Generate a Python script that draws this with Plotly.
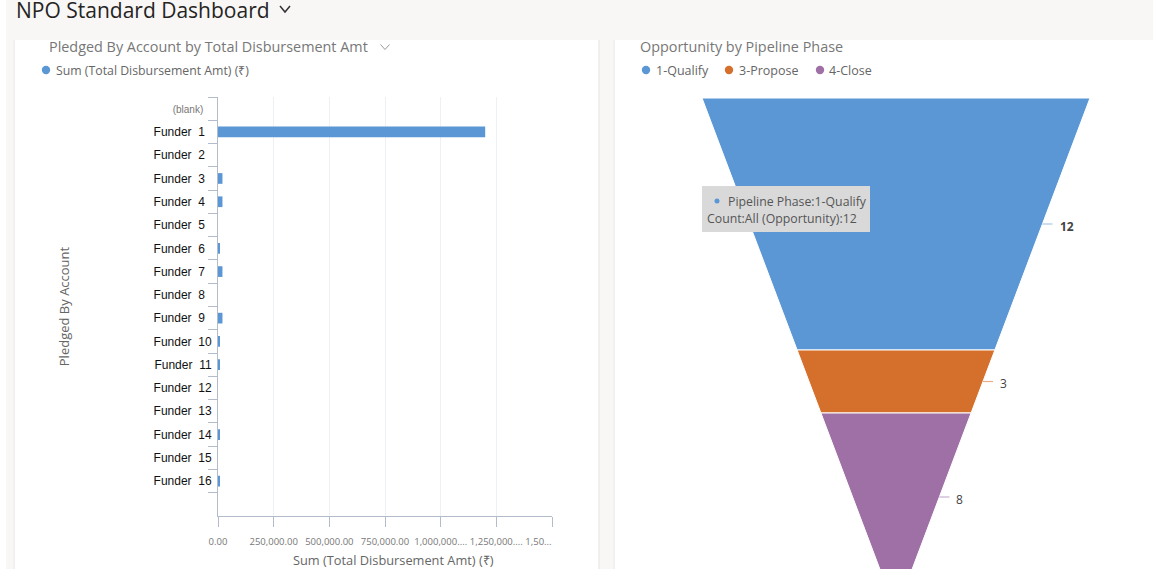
import plotly.graph_objects as go

# ---- data ----
accounts = ["(blank)", "Funder 1", "Funder 2", "Funder 3", "Funder 4", "Funder 5", "Funder 6", "Funder 7", "Funder 8",
            "Funder 9", "Funder 10", "Funder 11", "Funder 12", "Funder 13", "Funder 14", "Funder 15", "Funder 16", ""]
amounts = [0, 1200000, 0, 20000, 20000, 0, 8000, 20000, 0, 20000, 8000, 8000, 0, 0, 8000, 0, 8000, 0]
x_tickvals = [0, 250000, 500000, 750000, 1000000, 1250000, 1500000]
x_ticktext = ["0.00", "250,000.00", "500,000.00", "750,000.00", "1,000,000....", "1,250,000....", "1,50..."]
phases = ["1-Qualify", "3-Propose", "4-Close"]
counts = [12, 3, 8]
phase_colors = ["#5B97D5", "#D4702C", "#9E70A5"]
leader_colors = ["#A9C8E8", "#E8AE88", "#C9AFCF"]

W, H = 1153, 569
px = lambda v: v / W
py = lambda v: 1 - v / H
FONT = "Open Sans"
BAR = "#5B97D5"

def ylabel(name):
    if name == "(blank)":
        return '<span style="color:#777777;font-size:10px">(blank)\u00a0\u00a0\u00a0</span>'
    if name == "":
        return " "
    word, num = name.split(" ")
    pad = "\u2007" if len(num) == 1 else ""
    return f"{word}\u00a0\u00a0{num}{pad}"

fig = go.Figure()

# bar panel
fig.add_trace(go.Bar(y=[ylabel(a) for a in accounts], x=amounts, orientation="h",
                     marker=dict(color=BAR, line=dict(width=0)), width=0.46,
                     xaxis="x", yaxis="y", showlegend=False, name="Sum (Total Disbursement Amt) (₹)",
                     hovertemplate="%{x}<extra></extra>"))

# funnel panel: cumulative counts set the height of each band, width narrows linearly
BASE_RATIO = 0.06
total = sum(counts)
def half(c):
    return 0.5 * (1 - (1 - BASE_RATIO) * c / total)

annotations = []
cum = 0
for name, n, col, lcol in zip(phases, counts, phase_colors, leader_colors):
    a, b = cum, cum + n
    fig.add_trace(go.Scatter(x=[-half(a), half(a), half(b), -half(b), -half(a)], y=[a, a, b, b, a],
                             mode="lines", fill="toself", fillcolor=col, line=dict(color="#ffffff", width=1),
                             xaxis="x2", yaxis="y2", showlegend=False, name=name, hoverinfo="name"))
    m = (a + b) / 2
    e = half(m)
    fig.add_trace(go.Scatter(x=[e, e + 0.026], y=[m, m], mode="lines", line=dict(color=lcol, width=1.2),
                             xaxis="x2", yaxis="y2", showlegend=False, hoverinfo="skip"))
    annotations.append(dict(xref="x2", yref="y2", x=e + 0.026, y=m, text=f"<b>{n}</b>" if n == 12 else str(n), showarrow=False,
                            xanchor="left", yanchor="middle", xshift=5, yshift=-2,
                            font=dict(family=FONT, size=12, color="#444444")))
    cum = b

def note(x, y, text, size=12, color="#666666", anchor="left", **kw):
    annotations.append(dict(xref="paper", yref="paper", x=px(x - 2), y=py(y), text=text, showarrow=False,
                            xanchor=anchor, yanchor="middle", xshift=0, align="left",
                            font=dict(family=FONT, size=size, color=color), **kw))

note(16, 10, "NPO Standard Dashboard", size=21, color="#252423")
note(49, 47, "Pledged By Account by Total Disbursement Amt", size=14.4, color="#777777")
note(56, 70, "Sum (Total Disbursement Amt) (₹)", size=12.3, color="#666666")
note(640, 47, "Opportunity by Pipeline Phase", size=14.4, color="#777777")
legend_text_x = [656, 739, 829]
for tx, name in zip(legend_text_x, phases):
    note(tx, 70, name, size=12.5, color="#666666")
note(728, 201, "Pipeline Phase:1-Qualify", size=12.3, color="#555555")
note(707, 218, "Count:All (Opportunity):12", size=12.3, color="#555555")
note(395, 560, "Sum (Total Disbursement Amt) (₹)", size=12.8, color="#666666", anchor="center")

def rect(x0, y0, x1, y1, color):
    return dict(type="rect", xref="paper", yref="paper", x0=px(x0), x1=px(x1), y0=py(y0), y1=py(y1),
                fillcolor=color, line=dict(width=0), layer="below")

def dot(cx, cy, r, color, layer="above"):
    return dict(type="circle", xref="paper", yref="paper", x0=px(cx - r), x1=px(cx + r), y0=py(cy + r), y1=py(cy - r),
                fillcolor=color, line=dict(width=0), layer=layer)

def chevron(cx, cy, w, h, color, lw):
    p = f"M {px(cx - w)} {py(cy - h)} L {px(cx)} {py(cy + h)} L {px(cx + w)} {py(cy - h)}"
    return dict(type="path", xref="paper", yref="paper", path=p, line=dict(color=color, width=lw))

BG = "#F8F7F6"
EDGE = "#F0EFEE"
shapes = [
    rect(6, 0, 1153, 40, BG),
    rect(6, 40, 15, 569, BG),
    rect(598, 40, 615, 569, BG),
    rect(13.5, 40, 15, 569, EDGE),
    rect(598, 40, 600, 569, EDGE),
    rect(613.5, 40, 615, 569, EDGE),
    dot(46, 70, 4.2, BAR),
    dot(646, 70, 4.2, phase_colors[0]),
    dot(729, 70, 4.2, phase_colors[1]),
    dot(820, 70, 4.2, phase_colors[2]),
    chevron(285, 9, 5, 3, "#333333", 1.5),
    chevron(385, 47, 4.5, 2.5, "#999999", 1),
    dict(type="rect", xref="paper", yref="paper", x0=px(702), x1=px(870), y0=py(232), y1=py(186),
         fillcolor="#D9D9D9", line=dict(width=0), layer="above"),
    dot(717, 201, 2.5, phase_colors[0]),
]

AXIS = "#B4BCCB"
fig.update_layout(
    width=W, height=H, margin=dict(l=0, r=0, t=0, b=0, autoexpand=False), autosize=False,
    paper_bgcolor="#ffffff", plot_bgcolor="#ffffff", showlegend=False,
    font=dict(family=FONT), bargap=0.5,
    xaxis=dict(domain=[px(218), px(552)], range=[0, 1500000], anchor="y", tickmode="array", automargin=False,
               tickvals=x_tickvals, ticktext=[t if t != "1,50..." else t + "\u00a0" * 11 for t in x_ticktext],
               tickangle=0, ticks="outside", ticklen=10, tickcolor=AXIS, showline=True, linecolor=AXIS,
               showgrid=True, gridcolor="#EEF0F5", zeroline=False, tickfont=dict(size=9.5, color="#777777", family=FONT),
               ticklabelstandoff=7),
    yaxis=dict(domain=[py(516), py(97)], range=[17.5, -0.5], anchor="x", type="category", automargin=False,
               categoryorder="array", categoryarray=[ylabel(a) for a in accounts], tickson="boundaries",
               ticks="outside", ticklen=9, tickcolor=AXIS, showline=True, linecolor=AXIS, showgrid=False, zeroline=False,
               tickfont=dict(size=12, color="#111111", family="Liberation Sans"), ticklabelstandoff=3,
               title=dict(text="Pledged By Account", font=dict(size=13, color="#666666"), standoff=81)),
    xaxis2=dict(domain=[px(702), px(1090)], range=[-0.5, 0.5], anchor="y2", visible=False, automargin=False),
    yaxis2=dict(domain=[0, py(98)], range=[(H - 98) / 21, 0], anchor="x2", visible=False, automargin=False),
    annotations=annotations, shapes=shapes,
)
fig.write_html("out.html", config=dict(displayModeBar=False),
               post_script="document.body.style.margin='0';document.body.style.overflow='hidden';")
